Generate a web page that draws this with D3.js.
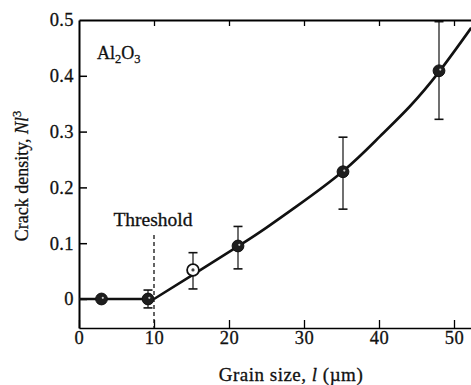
<!DOCTYPE html>
<html>
<head>
<meta charset="utf-8">
<script src="https://cdn.jsdelivr.net/npm/d3@7"></script>
<style>
  html, body { margin: 0; padding: 0; background: #fff; }
  svg { display: block; }
</style>
</head>
<body>
<svg id="chart" width="471" height="385"></svg>
<script>
// Measured crack density N·l³ against grain size l (µm) for Al2O3
const grainSize   = [3, 9.2, 15.2, 21.2, 35.2, 48.0];
const density     = [0, 0, 0.052, 0.095, 0.228, 0.409];
const errLow      = [0, -0.016, 0.018, 0.054, 0.161, 0.322];
const errHigh     = [0, 0.016, 0.083, 0.130, 0.290, 0.497];
const openMarker  = [false, false, true, false, false, false];

// Fitted trend: zero below the threshold, rising above it
const flatX = [0, 10];
const flatY = [0, 0];
const fitX = [10, 15, 21.5, 25, 29, 35.2, 40.1, 44.1, 48, 52.3];
const fitY = [0, 0.042, 0.097, 0.128, 0.166, 0.229, 0.291, 0.345, 0.407, 0.486];

const thresholdX = 10;
const xTicks = [0, 10, 20, 30, 40, 50];
const yTicks = [0, 0.1, 0.2, 0.3, 0.4, 0.5];
const yTickLabels = ["0", "0.1", "0.2", "0.3", "0.4", "0.5"];

const FONT = '"Liberation Serif", "DejaVu Serif", serif';
const svg = d3.select("#chart");
const plotLeft = 79, plotRight = 471, plotTop = 20, plotBottom = 328;

const x = d3.scaleLinear().domain([0, (plotRight - plotLeft) / 7.5]).range([plotLeft, plotRight]);
const y = d3.scaleLinear().domain([-0.052, 0.5]).range([plotBottom, plotTop]);

// Serif text with a faint outline so it reads as heavy printed type
function styleText(sel, size) {
  sel.style("font-family", FONT).style("font-size", size + "px").style("fill", "#111")
    .style("stroke", "#111").style("stroke-width", "0.3px");
}

// Axes with inward ticks
const gx = svg.append("g").attr("transform", `translate(0,${plotBottom})`)
  .call(d3.axisBottom(x).tickValues(xTicks).tickSizeInner(-8).tickSizeOuter(0).tickPadding(3)
    .tickFormat(d3.format("d")));
styleText(gx.selectAll("text"), 18.5);
gx.selectAll("text").style("letter-spacing", "0.6px");
gx.select(".domain").attr("stroke-width", 1.6);
gx.selectAll(".tick line").attr("stroke-width", 1.3);

const gy = svg.append("g").attr("transform", `translate(${plotLeft},0)`)
  .call(d3.axisLeft(y).tickValues(yTicks).tickSizeInner(-8).tickSizeOuter(0).tickPadding(5)
    .tickFormat((d, i) => yTickLabels[i]));
styleText(gy.selectAll("text"), 18.5);
gy.selectAll("text").style("letter-spacing", "0.4px");
gy.select(".domain").attr("stroke-width", 2);
gy.selectAll(".tick line").attr("stroke-width", 1.5);
gy.selectAll(".tick").filter(d => d === 0.5).select("line").remove();

// Top frame with downward ticks
const gt = svg.append("g").attr("transform", `translate(0,${plotTop})`)
  .call(d3.axisTop(x).tickValues(xTicks.filter(d => d > 0)).tickSizeInner(-6).tickSizeOuter(0)
    .tickFormat(""));
gt.select(".domain").attr("stroke-width", 2);
gt.selectAll(".tick line").attr("stroke-width", 1.3);

// Threshold marker
svg.append("line")
  .attr("x1", x(thresholdX)).attr("x2", x(thresholdX))
  .attr("y1", 235).attr("y2", plotBottom)
  .attr("stroke", "#111").attr("stroke-width", 1.3).attr("stroke-dasharray", "4,3");
styleText(svg.append("text").attr("x", x(thresholdX) - 1).attr("y", 226)
  .attr("text-anchor", "middle").text("Threshold"), 19.5);

// Fitted curve
const line = d3.line().x(d => x(d[0])).y(d => y(d[1]));
svg.append("path").datum(flatX.map((d, i) => [d, flatY[i]]))
  .attr("fill", "none").attr("stroke", "#111").attr("stroke-width", 2.6)
  .attr("d", line);
svg.append("path").datum(fitX.map((d, i) => [d, fitY[i]]))
  .attr("fill", "none").attr("stroke", "#111").attr("stroke-width", 2.6)
  .attr("stroke-linejoin", "round")
  .attr("d", line.curve(d3.curveNatural));

// Error bars
const pts = grainSize.map((g, i) => ({ g, v: density[i], lo: errLow[i], hi: errHigh[i], open: openMarker[i] }));
const eb = svg.append("g").attr("stroke", "#111").attr("stroke-width", 1.2);
pts.filter(p => p.hi !== p.lo).forEach(p => {
  eb.append("line").attr("x1", x(p.g)).attr("x2", x(p.g)).attr("y1", y(p.lo)).attr("y2", y(p.hi));
  [p.lo, p.hi].forEach(v => eb.append("line")
    .attr("x1", x(p.g) - 4.5).attr("x2", x(p.g) + 4.5).attr("y1", y(v)).attr("y2", y(v))
    .attr("stroke-width", 1.6));
});

// Data markers
const mk = svg.append("g");
pts.forEach(p => {
  mk.append("circle").attr("cx", x(p.g)).attr("cy", y(p.v)).attr("r", 5.9)
    .attr("fill", p.open ? "#fff" : "#1e1e1e").attr("stroke", "#111").attr("stroke-width", p.open ? 1.8 : 1);
  if (p.open) {
    mk.append("circle").attr("cx", x(p.g)).attr("cy", y(p.v)).attr("r", 1.6).attr("fill", "#444");
  } else {
    mk.append("circle").attr("cx", x(p.g) + 1.3).attr("cy", y(p.v) - 1.2).attr("r", 1.1).attr("fill", "#ccc");
  }
});

// Material label
const mat = svg.append("text").attr("x", 97).attr("y", 59);
styleText(mat, 18);
mat.append("tspan").text("Al");
mat.append("tspan").style("font-size", "12.5px").attr("dy", 4).text("2");
mat.append("tspan").attr("dy", -4).text("O");
mat.append("tspan").style("font-size", "12.5px").attr("dy", 4).text("3");

// Axis titles
const xt = svg.append("text").attr("x", 291).attr("y", 381).attr("text-anchor", "middle");
styleText(xt, 19);
xt.style("letter-spacing", "0.5px");
xt.append("tspan").text("Grain size, ");
xt.append("tspan").style("font-style", "italic").text("l");
xt.append("tspan").text(" (\u00b5m)");

const yt = svg.append("text").attr("transform", "translate(28,176) rotate(-90)")
  .attr("text-anchor", "middle");
styleText(yt, 18);
yt.append("tspan").text("Crack density, ");
yt.append("tspan").style("font-style", "italic").text("Nl");
yt.append("tspan").style("font-size", "12.5px").attr("dy", -7).text("3");
</script>
</body>
</html>
